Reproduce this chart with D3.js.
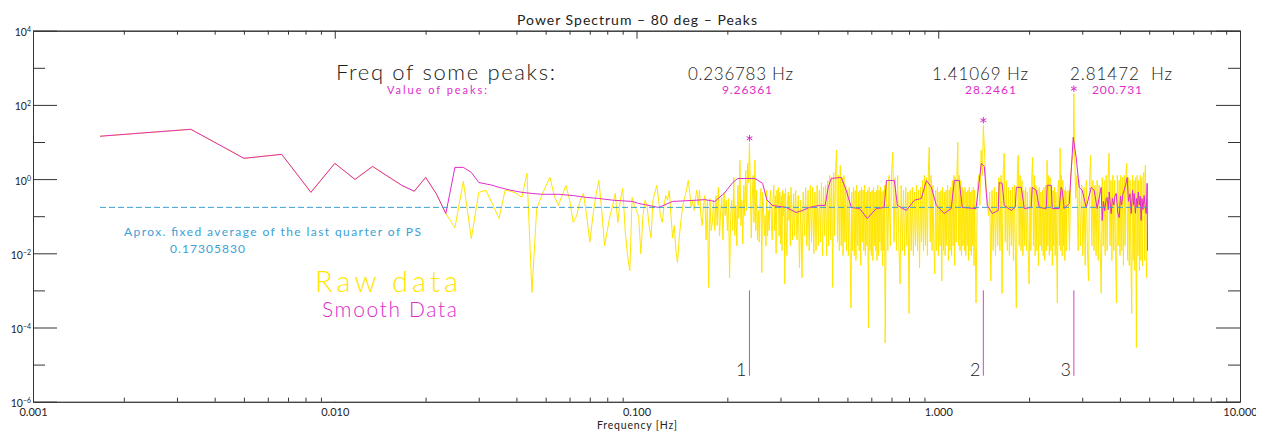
<!DOCTYPE html>
<html>
<head>
<meta charset="utf-8">
<script src="https://cdn.jsdelivr.net/npm/d3@7"></script>
<style>
  body { margin: 0; background: #fff; }
  svg { display: block; }
  text { font-family: Lato, "DejaVu Sans", sans-serif; }
</style>
</head>
<body>
<svg id="chart" width="1264" height="432"></svg>
<script>
// ---- Spectrum data -------------------------------------------------------
// Frequency resolution of the FFT (Hz per bin)
const binWidthHz = 0.00166749;

// Raw power spectrum: FFT bin index and power
const rawBin = [
  1,2,3,4,5,6,7,8,9,10,
  11,12,13,14,15,16,17,18,19,20,
  21,22,23,24,25,26,27,28,29,30,
  31,32,33,34,35,36,37,38,39,40,
  41,42,43,44,45,46,47,48,49,50,
  51,52,53,54,55,56,57,58,59,
  60,61,62,63,64,65,66,67,68,69,
  70,71,72,73,74,75,76,77,78,79,
  80,81,82,83,84,85,86,87,88,89,
  90,91,92,93,94,95,96,97,98,99,
  100,
  101,102,103,104,105,106,107,108,109,110,
  111,112,113,114,115,116,117,118,119,120,
  121,122,123,124,125,126,127,128,129,130,
  131,132,133,134,135,136,137,138,139,140,
  141,142,143,144,145,146,147,148,149,150,
  151,152,153,154,155,156,157,158,159,160,
  161,162,163,164,165,166,167,168,169,170,
  171,172,173,174,175,176,177,178,179,180,
  181,182,183,184,185,186,187,188,189,190,
  191,192,193,194,195,196,197,198,199,200,
  202,204,206,208,210,212,214,216,218,220,
  222,224,226,228,230,232,234,236,238,240,
  242,244,246,248,250,252,254,256,258,260,
  262,264,266,268,270,272,274,276,278,280,
  282,284,286,288,290,292,294,296,298,300,
  302,304,306,308,310,312,314,316,318,320,
  322,324,326,328,330,332,334,336,338,340,
  342,344,346,348,350,352,354,356,358,360,
  362,364,366,368,370,372,374,376,378,380,
  382,384,386,388,390,392,394,396,398,400,
  404,408,412,416,420,424,428,432,436,440,
  444,448,452,456,460,464,468,472,476,480,
  484,488,492,496,500,504,508,512,516,520,
  524,528,532,536,540,544,548,552,556,560,
  564,568,572,576,580,584,588,592,596,600,
  604,608,612,616,620,624,628,632,636,640,
  644,648,652,656,660,664,668,672,676,680,
  684,688,692,696,700,704,708,712,716,720,
  724,728,732,736,740,744,748,752,756,760,
  764,768,772,776,780,784,788,792,796,800,
  808,816,824,832,840,846,856,864,872,880,
  888,896,904,912,920,928,936,944,952,960,
  968,976,984,992,1000,1008,1016,1024,1032,1040,
  1048,1056,1064,1072,1080,1088,1096,1104,1112,1120,
  1128,1136,1144,1152,1160,1168,1176,1184,1192,1200,
  1208,1216,1224,1232,1240,1248,1256,1264,1272,1280,
  1288,1296,1304,1312,1320,1328,1336,1344,1352,1360,
  1368,1376,1384,1392,1400,1408,1416,1424,1432,1440,
  1448,1456,1464,1472,1480,1488,1496,1504,1512,1520,
  1528,1536,1544,1552,1560,1568,1576,1584,1592,1600,
  1616,1632,1648,1664,1680,1688,1696,1704,1712,1728,
  1744,1760,1776,1792,1808,1824,1840,1856,1872,1888,
  1904,1920,1936,1952,1968,1984,2000,2016,2032,2048,
  2064,2080,2096,2112,2128,2144,2160,2176,2192,2208,
  2224,2240,2256,2272,2288,2304,2320,2336,2352,2368,
  2384,2400,2416,2432,2448,2464,2480,2496,2512,2528,
  2544,2560,2576,2592,2608,2624,2640,2656,2672,2688,
  2704,2720,2736,2752,2768,2784,2800,2816,2832,2848,
  2864,2880,2896,2912,2928,2944,2960
];
const rawPower = [
  14.3,22,3.63,4.65,0.44,2.66,0.98,2.2,1.18,0.68,
  0.47,1.11,0.41,0.118,0.049,0.87,0.025,0.44,0.5,0.21,
  0.087,0.5,0.47,0.41,0.32,1.43,0.00087,0.161,0.34,0.64,
  1.11,0.36,0.195,0.36,0.68,0.27,0.068,0.104,0.27,0.41,
  0.104,0.02,0.104,0.36,0.92,0.143,0.016,0.041,0.104,0.195,
  0.41,0.068,0.27,0.56,0.041,0.0087,0.0034,0.32,0.195,
  0.143,0.092,0.0098,0.104,0.27,0.195,0.056,0.026,0.27,0.44,
  0.68,0.27,0.104,0.068,0.195,0.36,0.27,0.5,0.104,0.026,
  0.056,0.0118,0.0056,0.023,0.068,0.143,0.27,0.36,0.56,0.92,
  0.44,0.172,0.27,0.143,0.30,0.5,0.195,0.5,0.104,0.056,
  0.195,
  0.36,0.023,0.27,0.0012,0.3,0.041,0.068,0.27,0.041,0.36,
  0.056,0.60,0.029,0.143,0.32,0.023,0.44,0.104,0.27,0.041,
  0.3,0.0022,0.087,0.27,0.041,1.11,0.03,0.195,0.016,0.68,
  0.087,3.2,0.056,0.27,0.018,0.68,0.104,1.72,0.143,2.66,
  0.8,9.26361,0.5,0.026,0.27,1.26,0.068,3.2,0.041,0.5,
  0.023,0.143,0.02,0.27,0.56,0.003,0.44,0.195,0.03,0.104,
  0.016,0.5,0.029,0.143,0.041,0.27,0.5,0.056,0.023,0.32,
  0.68,0.041,0.36,0.0098,0.5,0.195,0.6,0.029,0.44,0.018,
  0.36,0.0118,0.5,0.104,0.41,0.0015,0.56,0.041,0.0087,0.27,
  0.45,0.077,0.36,0.016,0.6,0.195,0.023,0.104,0.41,0.029,
  0.5,0.023,0.36,0.0041,0.27,0.0022,0.45,0.03,0.6,0.016,
  0.5,0.0118,0.68,0.02,0.6,0.0098,0.45,0.0118,0.68,0.016,
  0.5,0.02,0.8,0.0087,0.6,0.03,0.68,0.0087,0.92,0.016,
  1.26,0.023,1.1,0.0012,1.5,0.03,1.72,5.97,0.02,1.26,
  0.0118,2.35,0.016,1.1,0.0087,1.26,0.02,0.68,0.0118,0.5,
  0.0087,0.6,0.016,0.00034,0.45,0.0118,0.6,0.0087,0.5,0.0064,
  0.68,0.016,0.45,0.0118,0.5,0.0047,0.6,0.02,0.5,0.0118,
  0.68,0.0087,0.45,0.016,0.5,0.000098,0.6,0.0118,0.45,0.0087,
  0.5,0.0064,0.6,0.016,0.45,0.0118,0.5,0.0064,0.68,0.0087,
  0.5,0.02,0.6,0.0118,0.45,0.0047,0.5,0.0118,0.68,0.0000385,
  0.92,0.0118,1.26,0.016,1.52,5.27,0.02,1.1,0.0118,1.26,
  0.016,0.0015,0.68,0.0118,0.5,0.0087,0.6,0.016,0.45,0.00024,
  0.5,0.0118,0.6,0.0087,0.45,0.016,0.68,0.0118,0.5,0.0041,
  0.6,0.02,0.92,0.0118,1.26,0.016,1.1,0.0087,1.52,7.19,
  0.02,1.26,0.0118,0.68,0.016,0.0028,0.5,0.0118,0.6,0.0087,
  0.45,0.016,0.5,0.0018,0.6,0.0118,0.45,0.0087,0.5,0.016,
  0.68,0.0064,0.5,0.0118,0.6,0.0087,0.92,0.016,1.26,0.0047,
  1.1,0.02,1.52,9.8,0.016,1.26,0.0118,0.92,0.0087,0.6,
  0.016,0.5,0.0118,0.6,0.0087,0.45,0.016,0.5,0.0064,0.6,
  0.0118,0.45,0.0087,0.5,0.016,0.6,0.0047,0.5,0.0118,0.00046,
  0.5,1.26,0.2,5.97,1.26,28.2461,3.2,0.6,0.3,0.104,
  0.45,0.0018,0.5,0.0118,0.6,0.0087,0.45,0.016,1.1,0.0118,
  1.26,0.00083,1.52,4.95,0.02,0.92,0.0118,0.6,0.0087,0.5,
  0.016,0.6,0.0064,0.68,0.0118,0.00034,1.26,4.37,0.016,1.26,
  0.0118,0.92,0.0087,0.5,0.016,0.6,0.0118,0.45,0.0087,0.0015,
  0.6,0.0118,1.1,3.86,0.016,1.26,0.0087,0.68,0.0118,0.5,
  0.0047,0.6,0.016,0.45,0.0118,0.5,0.0087,0.6,0.0064,0.68,
  0.0118,3.2,0.016,1.26,0.0087,1.1,0.0118,0.68,0.0047,0.5,
  0.016,0.6,0.0087,0.45,0.0118,0.00046,0.6,0.92,0.016,6.76,
  0.0118,1.26,0.0087,0.92,0.016,0.5,0.0064,0.6,0.0118,0.45,
  0.5,0.0118,1.26,3.2,4.37,200.731,5.97,1.52,0.3,1.26,
  0.0118,0.92,0.016,0.68,0.0087,0.6,0.0047,0.92,0.0118,0.0018,
  1.26,4.37,0.016,0.92,0.0118,0.68,0.0087,0.92,0.0064,0.68,
  0.0118,0.00083,1.1,0.016,0.92,0.0087,1.26,0.0118,1.1,4.95,
  0.016,0.92,0.0064,1.26,0.0118,0.92,0.0087,0.00046,1.26,0.016,
  0.92,0.0087,1.26,0.0118,1.1,0.0047,1.26,0.016,1.52,2.66,
  0.0064,1.1,0.0047,0.92,0.0087,0.00024,1.26,0.0064,0.92,0.0034,
  1.1,0.000029,1.26,0.0087,0.92,0.0034,1.26,0.0064,1.1,0.0047,
  1.26,1.52,0.0064,2.35,0.0087,0.0022,0.68
];

// Smoothed power spectrum: FFT bin index and power
const smoothBin = [
  1,2,3,4,5,6,7,8,9,10,
  11,12,13,14,15,16,17,18,20,21,
  23,25,27,29,33,37,41,45,50,58,
  61,63,71,79,95,101,109,117,125,130,
  148,157,162,169,188,203,213,224,242,253,
  259,265,286,297,309,329,349,374,397,404,
  429,439,470,500,527,548,569,591,628,662,
  678,704,720,800,833,852,872,885,906,948,
  955,977,992,1047,1079,1088,1130,1156,1219,1229,
  1266,1296,1367,1377,1420,1431,1509,1532,1544,1568,
  1629,1680,1718,1758,1799,1855,1927,1971,2016,2079,
  2095,2115,2136,2160,2176,2195,2210,2244,2265,2290,
  2310,2332,2360,2385,2410,2430,2455,2477,2505,2535,
  2560,2590,2614,2640,2660,2675,2700,2720,2736,2760,
  2780,2800,2821,2840,2860,2886,2905,2931,2953,2960
];
const smoothPower = [
  14.3,22,3.63,4.65,0.44,2.66,0.98,2.2,1.18,0.68,
  0.47,1.11,0.41,0.118,2.07,2.07,1.52,0.81,0.68,0.60,
  0.50,0.44,0.41,0.39,0.39,0.36,0.32,0.30,0.27,0.25,
  0.22,0.21,0.172,0.25,0.27,0.28,0.25,0.41,0.81,1.04,
  1.04,0.77,0.28,0.195,0.172,0.126,0.143,0.172,0.195,0.195,
  0.60,1.04,1.11,0.50,0.172,0.161,0.087,0.161,0.172,0.92,
  0.92,0.195,0.143,0.27,0.30,0.92,0.60,0.195,0.118,0.161,
  0.92,0.92,0.172,0.161,2.66,2.2,0.195,0.161,0.118,0.143,
  0.81,0.77,0.195,0.143,0.172,0.60,0.60,0.161,0.172,0.60,
  0.50,0.172,0.161,0.68,0.68,0.161,0.161,0.60,0.50,0.161,
  0.22,13.4,3.86,0.60,0.50,0.172,0.60,0.50,0.161,0.60,
  0.077,0.25,0.14,0.3,0.32,0.15,0.45,0.118,0.3,0.2,
  0.35,0.41,0.12,0.092,0.35,0.2,0.4,0.50,0.7,1.11,
  0.25,0.4,0.118,0.5,0.2,0.41,0.12,0.3,0.172,0.45,
  0.2,0.35,0.077,0.3,0.15,0.36,0.2,0.118,0.77,0.0118
];

// Detected peaks
const peakFreq = [0.236783, 1.41069, 2.81472];
const peakValue = [9.26361, 28.2461, 200.731];
const peakNames = ["1", "2", "3"];
const peakUnit = [" Hz", " Hz", "  Hz"];

// Mean level of the last quarter of the spectrum
const avgLevel = 0.17305830;

// Axis ticks
const xMajor = [0.001, 0.01, 0.1, 1, 10];
const xTickLabels = ["0.001", "0.010", "0.100", "1.000", "10.000"];
const yExponents = [-6, -4, -2, 0, 2, 4];
const yMinorExponents = [-5, -3, -1, 1, 3];

if (rawBin.length !== rawPower.length) throw new Error("raw arrays differ: " + rawBin.length + " / " + rawPower.length);
if (smoothBin.length !== smoothPower.length) throw new Error("smooth arrays differ: " + smoothBin.length + " / " + smoothPower.length);

// ---- Drawing -------------------------------------------------------------
const svg = d3.select("#chart");
const X0 = 33, X1 = 1240, Y0 = 401.7, Y1 = 30.7;
const x = d3.scaleLog().domain([0.001, 10]).range([X0, X1]);
const y = d3.scaleLog().domain([1e-6, 1e4]).range([Y0, Y1]);

const axisColor = "#333";
const yellow = "#ffe600";
const magenta = "#e02ccb";
const blue = "#3a9fd6";

const xMinor = [];
xMajor.slice(0, -1).forEach(d => { for (let m = 2; m <= 9; m++) xMinor.push(d * m); });
const yMajor = yExponents.map(e => Math.pow(10, e));
const yMinor = yMinorExponents.map(e => Math.pow(10, e));

function addAxis(axis, tx, ty) {
  const g = svg.append("g").attr("transform", `translate(${tx},${ty})`).call(axis);
  g.attr("color", axisColor).attr("font-family", "Lato, 'DejaVu Sans', sans-serif");
  return g;
}

// bottom & top
const bottom = addAxis(d3.axisBottom(x).tickValues(xMajor).tickSize(-8).tickSizeOuter(0)
  .tickPadding(7).tickFormat((d, i) => xTickLabels[i]), 0, Y0);
bottom.attr("font-size", 11);
bottom.selectAll("text").attr("fill", "#222");
addAxis(d3.axisBottom(x).tickValues(xMinor).tickSize(-4).tickSizeOuter(0).tickFormat(""), 0, Y0);
addAxis(d3.axisTop(x).tickValues(xMajor).tickSize(-8).tickSizeOuter(0).tickFormat(""), 0, Y1);
addAxis(d3.axisTop(x).tickValues(xMinor).tickSize(-4).tickSizeOuter(0).tickFormat(""), 0, Y1);

// left & right
const left = addAxis(d3.axisLeft(y).tickValues(yMajor).tickSize(-24).tickSizeOuter(0).tickFormat(""), X0, 0);
addAxis(d3.axisLeft(y).tickValues(yMinor).tickSize(-12).tickSizeOuter(0).tickFormat(""), X0, 0);
addAxis(d3.axisRight(y).tickValues(yMajor).tickSize(-24).tickSizeOuter(0).tickFormat(""), X1, 0);
addAxis(d3.axisRight(y).tickValues(yMinor).tickSize(-12).tickSizeOuter(0).tickFormat(""), X1, 0);

left.selectAll(".tick").each(function (d, i) {
  const t = d3.select(this).select("text")
    .attr("x", -2).attr("y", 5).attr("dy", null)
    .attr("text-anchor", "end").attr("fill", "#222").attr("font-size", 10.5).text("10");
  t.append("tspan").attr("dy", -4).attr("font-size", 7)
    .text(String(yExponents[i]).replace("-", "\u2212"));
});

// clip the rightmost frequency label at the page edge
svg.append("clipPath").attr("id", "edge").append("rect")
  .attr("x", 0).attr("y", 0).attr("width", 1256).attr("height", 432);
bottom.attr("clip-path", "url(#edge)");

svg.append("text").attr("x", 637).attr("y", 429).attr("text-anchor", "middle")
  .attr("font-size", 10.5).attr("fill", "#222")
  .attr("textLength", 80).attr("lengthAdjust", "spacing").text("Frequency [Hz]");

svg.append("text").attr("x", 637).attr("y", 25).attr("text-anchor", "middle")
  .attr("font-size", 14).attr("fill", "#222")
  .attr("textLength", 240).attr("lengthAdjust", "spacing")
  .text("Power Spectrum \u2013 80 deg \u2013 Peaks");

// series
const line = d3.line().x(d => x(d.f)).y(d => y(d.p));
const raw = rawBin.map((k, i) => ({ f: k * binWidthHz, p: rawPower[i] }));
const smooth = smoothBin.map((k, i) => ({ f: k * binWidthHz, p: smoothPower[i] }));

svg.append("path").datum(raw).attr("d", line)
  .attr("fill", "none").attr("stroke", yellow).attr("stroke-width", 1)
  .attr("stroke-linejoin", "round");
svg.append("path").datum(smooth).attr("d", line)
  .attr("fill", "none").attr("stroke", magenta).attr("stroke-width", 1)
  .attr("stroke-linejoin", "round");

// average level
const fFirst = rawBin[0] * binWidthHz, fLast = rawBin[rawBin.length - 1] * binWidthHz;
svg.append("line")
  .attr("x1", x(fFirst)).attr("x2", x(fLast))
  .attr("y1", y(avgLevel)).attr("y2", y(avgLevel))
  .attr("stroke", blue).attr("stroke-width", 1).attr("stroke-dasharray", "6,3");

// peak markers
const peaks = peakFreq.map((f, i) => ({ f, v: peakValue[i], name: peakNames[i], unit: peakUnit[i] }));
const star = d3.symbol(d3.symbolAsterisk, 30);
svg.selectAll(".star").data(peaks).join("path").attr("class", "star")
  .attr("d", star)
  .attr("transform", d => `translate(${x(d.f)},${y(d.v) - 5})`)
  .attr("fill", "none").attr("stroke", magenta).attr("stroke-width", 1);

svg.selectAll(".pline").data(peaks).join("line").attr("class", "pline")
  .attr("x1", d => x(d.f)).attr("x2", d => x(d.f))
  .attr("y1", y(1e-3)).attr("y2", y(5e-6))
  .attr("stroke", "#d93fd0").attr("stroke-width", 1);

svg.selectAll(".pname").data(peaks).join("text").attr("class", "pname")
  .attr("x", d => x(d.f) - 3).attr("y", y(5e-6))
  .attr("text-anchor", "end").attr("font-size", 18).attr("font-weight", 300)
  .attr("fill", "#222").text(d => d.name);

// peak annotations
const freqLabelX = [688, 932, 1070];
const freqLabelW = [105, 96, 102];
const valueLabelX = [722, 965, 1092];
const valueLabelW = [50, 51, 50];

svg.append("text").attr("x", 336).attr("y", 80).attr("font-size", 22).attr("font-weight", 300)
  .attr("fill", "#222").attr("textLength", 219).attr("lengthAdjust", "spacing")
  .text("Freq of some peaks:");
svg.append("text").attr("x", 387).attr("y", 94).attr("font-size", 11)
  .attr("fill", magenta).attr("textLength", 100).attr("lengthAdjust", "spacing")
  .text("Value of peaks:");

svg.selectAll(".flab").data(peaks).join("text").attr("class", "flab")
  .attr("x", (d, i) => freqLabelX[i]).attr("y", 80)
  .attr("font-size", 17).attr("font-weight", 300).attr("fill", "#222")
  .attr("textLength", (d, i) => freqLabelW[i]).attr("lengthAdjust", "spacing")
  .style("white-space", "pre")
  .text(d => String(d.f) + d.unit);
svg.selectAll(".vlab").data(peaks).join("text").attr("class", "vlab")
  .attr("x", (d, i) => valueLabelX[i]).attr("y", 94)
  .attr("font-size", 12).attr("fill", magenta)
  .attr("textLength", (d, i) => valueLabelW[i]).attr("lengthAdjust", "spacing")
  .text(d => String(d.v));

// average annotation
svg.append("text").attr("x", 124).attr("y", 236).attr("font-size", 12).attr("fill", blue)
  .attr("textLength", 297).attr("lengthAdjust", "spacing")
  .text("Aprox. fixed average of the last quarter of PS");
svg.append("text").attr("x", 170).attr("y", 253).attr("font-size", 12).attr("fill", blue)
  .attr("textLength", 75).attr("lengthAdjust", "spacing")
  .text(avgLevel.toFixed(8));

// legend
svg.append("text").attr("x", 315).attr("y", 292).attr("font-size", 29).attr("font-weight", 300)
  .attr("fill", yellow).attr("textLength", 143).attr("lengthAdjust", "spacing").text("Raw data");
svg.append("text").attr("x", 322).attr("y", 317).attr("font-size", 21).attr("font-weight", 300)
  .attr("fill", magenta).attr("textLength", 135).attr("lengthAdjust", "spacing").text("Smooth Data");
</script>
</body>
</html>
